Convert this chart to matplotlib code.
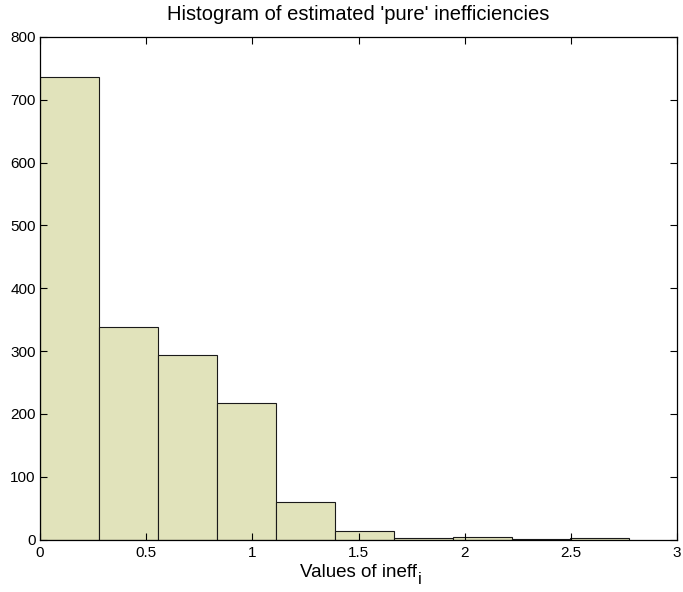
import numpy as np
import matplotlib
matplotlib.use("Agg")
import matplotlib.pyplot as plt

# counts per bin
counts = [736, 339, 293, 218, 60, 14, 2, 4, 1, 2]
x_lo, x_hi = 0.0, 2.776
xticks = [0, 0.5, 1, 1.5, 2, 2.5, 3]
xticklabels = ["0", "0.5", "1", "1.5", "2", "2.5", "3"]
yticks = [0, 100, 200, 300, 400, 500, 600, 700, 800]

plt.rcParams['font.family'] = ['Liberation Sans', 'DejaVu Sans']

edges = np.linspace(x_lo, x_hi, len(counts) + 1)

fig = plt.figure(figsize=(6.83, 5.92), dpi=100)
ax = fig.add_axes([40 / 683, 1 - 539.5 / 592, 637 / 683, 502.5 / 592])

ax.bar(edges[:-1], counts, width=np.diff(edges), align='edge',
       color='#e1e3bb', edgecolor='#1a1a1a', linewidth=0.8)

ax.set_xlim(0, 3)
ax.set_ylim(0, 800)
ax.set_xticks(xticks)
ax.set_xticklabels(xticklabels)
ax.set_yticks(yticks)
ax.tick_params(direction='in', top=True, right=True, labelsize=11,
               length=5, width=0.8)
ax.tick_params(axis='x', pad=4.5)
ax.tick_params(axis='y', pad=3)
for s in ax.spines.values():
    s.set_linewidth(0.9)

ax.set_title("Histogram of estimated 'pure' inefficiencies", fontsize=14.5, pad=12)
xl = ax.set_xlabel("Values of ineff", fontsize=13.5, labelpad=3)

# subscript i placed by hand below the end of the label
fig.canvas.draw()
bb = xl.get_window_extent()
fig.text((bb.x1 + 1) / fig.bbox.width, (bb.y0 - 6) / fig.bbox.height, "i",
         fontsize=12, ha='left', va='bottom')

fig.savefig("out.png", dpi=100)
